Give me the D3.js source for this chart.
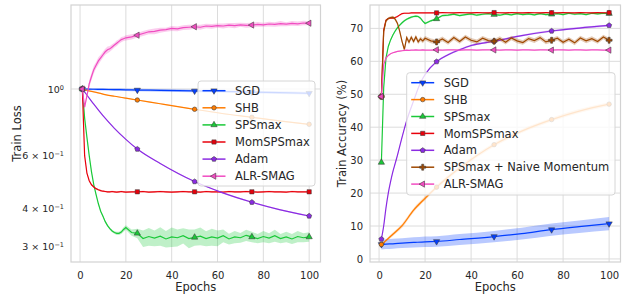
<!DOCTYPE html>
<meta charset="utf-8">
<style>
body { margin: 0; background: #fff; }
svg { display: block; font-family: "DejaVu Sans", sans-serif; }
.grid line { stroke: #dcdcdc; stroke-width: 1; }
.frame { fill: none; stroke: #d2d2d2; stroke-width: 1.2; }
.tick text { fill: #262626; font-size: 10px; font-family: "DejaVu Sans", sans-serif; }
.legend text { font-size: 11.5px; fill: #262626; }
.axis-label { font-size: 11.5px; fill: #262626; }
</style>
<svg width="629" height="296"></svg>

<script src="https://d3js.org/d3.v7.min.js"></script>
<script>
var svg = d3.select("svg");

// ---- data ----
var names  = ["SGD", "SHB", "SPSmax", "MomSPSmax", "Adam", "SPSmax + Naive Momentum", "ALR-SMAG"];
var colors = ["#023eff", "#ff7c00", "#1ac938", "#e8000b", "#8b2be2", "#9f4800", "#f14cc1"];

var markEpochs = [1, 25, 50, 75, 100];
var xTicks = [0, 20, 40, 60, 80, 100];
var lossTicks = [0.3, 0.4, 0.6, 1];
var lossTickLabels = [["3 × 10", "−1"], ["4 × 10", "−1"], ["6 × 10", "−1"], ["10", "0"]];
var accTicks = [0, 10, 20, 30, 40, 50, 60, 70];

var sparseEpochs = [1, 3, 6, 10, 15, 20, 25, 35, 50, 62, 75, 87, 100];
var denseEpochs = [1, 2, 3, 4, 5, 6, 7, 8, 9, 10, 11, 12, 13, 14, 15, 16, 17, 18, 19, 20,
  22.5, 25, 27.5, 30, 32.5, 35, 37.5, 40, 42.5, 45, 47.5, 50, 52.5, 55, 57.5, 60,
  62.5, 65, 67.5, 70, 72.5, 75, 77.5, 80, 82.5, 85, 87.5, 90, 92.5, 95, 97.5, 100];
var adamAccEpochs = [1, 2, 3, 4, 5, 6, 7, 8, 10, 12, 15, 18, 20, 25, 30, 35, 40, 50, 62, 75, 87, 100];

// train loss
var lossSGD   = [1.0, 0.999, 0.998, 0.997, 0.995, 0.994, 0.992, 0.99, 0.985, 0.981, 0.977, 0.972, 0.968];
var lossSGDsd = [0.003, 0.006, 0.008, 0.009, 0.01, 0.01, 0.01, 0.01, 0.01, 0.01, 0.01, 0.01, 0.01];
var lossSHB   = [1.0, 0.99, 0.978, 0.962, 0.946, 0.932, 0.919, 0.893, 0.856, 0.829, 0.805, 0.783, 0.763];
var lossSHBsd = [0, 0.002, 0.002, 0.003, 0.003, 0.003, 0.003, 0.003, 0.003, 0.003, 0.003, 0.003, 0.003];
var lossAdam  = [1.0, 0.955, 0.89, 0.815, 0.74, 0.68, 0.631, 0.565, 0.492, 0.452, 0.420, 0.397, 0.378];
var lossAdamsd = [0, 0.002, 0.002, 0.002, 0.002, 0.002, 0.002, 0.002, 0.002, 0.002, 0.002, 0.002, 0.002];

var lossSPS = [1.0, 0.80, 0.69, 0.60, 0.53, 0.48, 0.445, 0.415, 0.392, 0.377,
  0.362, 0.351, 0.343, 0.337, 0.333, 0.331, 0.331, 0.334, 0.341, 0.346,
  0.333, 0.331, 0.318, 0.323, 0.319, 0.324, 0.317, 0.322, 0.320, 0.325,
  0.318, 0.321, 0.324, 0.318, 0.322, 0.319, 0.325, 0.317, 0.322, 0.320,
  0.326, 0.322, 0.318, 0.323, 0.319, 0.325, 0.318, 0.322, 0.317, 0.323,
  0.320, 0.322];
var lossSPSsd = [0, 0.002, 0.003, 0.003, 0.003, 0.003, 0.003, 0.003, 0.003, 0.003,
  0.003, 0.003, 0.003, 0.003, 0.003, 0.004, 0.004, 0.005, 0.006, 0.006,
  0.008, 0.012, 0.02, 0.022, 0.019, 0.023, 0.02, 0.024, 0.021, 0.019,
  0.023, 0.02, 0.022, 0.018, 0.021, 0.019, 0.016, 0.013, 0.015, 0.012,
  0.014, 0.013, 0.011, 0.014, 0.012, 0.015, 0.011, 0.013, 0.012, 0.014,
  0.011, 0.012];
var lossMom = [1.0, 0.60, 0.525, 0.495, 0.48, 0.472, 0.466, 0.462, 0.459, 0.457,
  0.456, 0.455, 0.455, 0.456, 0.455, 0.454, 0.455, 0.456, 0.455, 0.454,
  0.455, 0.455, 0.456, 0.454, 0.455, 0.456, 0.455, 0.454, 0.455, 0.456,
  0.455, 0.455, 0.454, 0.456, 0.455, 0.455, 0.454, 0.456, 0.455, 0.455,
  0.456, 0.455, 0.454, 0.455, 0.456, 0.455, 0.455, 0.454, 0.456, 0.455,
  0.455, 0.455];
var lossMomsd = [0, 0.003, 0.003, 0.003, 0.003, 0.003, 0.003, 0.003, 0.003, 0.003,
  0.003, 0.003, 0.003, 0.003, 0.003, 0.003, 0.003, 0.003, 0.003, 0.003,
  0.003, 0.003, 0.003, 0.003, 0.003, 0.003, 0.003, 0.003, 0.003, 0.003,
  0.003, 0.003, 0.003, 0.003, 0.003, 0.003, 0.003, 0.003, 0.003, 0.003,
  0.003, 0.003, 0.003, 0.003, 0.003, 0.003, 0.003, 0.003, 0.003, 0.003,
  0.003, 0.003];
var lossALR = [1.0, 0.87, 0.95, 1.04, 1.10, 1.16, 1.20, 1.24, 1.27, 1.30,
  1.33, 1.35, 1.36, 1.38, 1.40, 1.42, 1.44, 1.46, 1.47, 1.48,
  1.49, 1.51, 1.53, 1.55, 1.555, 1.57, 1.575, 1.59, 1.585, 1.60,
  1.605, 1.611, 1.605, 1.62, 1.615, 1.625, 1.62, 1.63, 1.625, 1.635,
  1.628, 1.632, 1.64, 1.635, 1.645, 1.64, 1.65, 1.643, 1.652, 1.648,
  1.658, 1.655];
var lossALRsd = [0, 0.01, 0.02, 0.03, 0.03, 0.035, 0.03, 0.035, 0.03, 0.03,
  0.03, 0.035, 0.03, 0.03, 0.025, 0.03, 0.025, 0.03, 0.025, 0.03,
  0.03, 0.025, 0.03, 0.028, 0.035, 0.03, 0.025, 0.03, 0.028, 0.03,
  0.032, 0.025, 0.03, 0.028, 0.03, 0.025, 0.03, 0.028, 0.032, 0.025,
  0.03, 0.028, 0.03, 0.025, 0.03, 0.028, 0.032, 0.025, 0.03, 0.028,
  0.03, 0.025];

// train accuracy (%)
var accSGD   = [4.4, 4.5, 4.6, 4.8, 5.0, 5.2, 5.3, 5.9, 6.8, 7.7, 8.9, 9.8, 10.7];
var accSGDsd = [1.5, 1.5, 1.5, 1.5, 1.55, 1.6, 1.6, 1.65, 1.7, 1.8, 1.85, 1.9, 2.0];
var accSHB   = [4.4, 5.6, 7.5, 10.1, 14.8, 18.4, 21.8, 27.6, 34.7, 38.8, 42.3, 44.9, 47.0];
var accSHBsd = [0.3, 0.4, 0.5, 0.6, 0.6, 0.6, 0.6, 0.6, 0.6, 0.6, 0.6, 0.6, 0.6];
var accAdam  = [6.0, 10, 15.5, 20, 23.5, 26.5, 29, 31.5, 37, 42, 48, 53.5, 56, 59.9, 62, 63.5, 64.8, 66.1, 67.8, 69.2, 70.1, 70.9];
var accAdamsd = [0.3, 0.3, 0.3, 0.3, 0.3, 0.3, 0.3, 0.3, 0.3, 0.3, 0.3, 0.3, 0.3, 0.3, 0.3, 0.3, 0.3, 0.3, 0.3, 0.3, 0.3, 0.3];

var accSPS = [29.3, 52, 61, 64.5, 66.5, 68, 69.2, 70.2, 71, 71.7,
  72.3, 72.8, 73.1, 73.4, 73.6, 73.7, 73.6, 73.1, 72.2, 71.5,
  72.3, 72.9, 73.9, 74.0, 74.3, 73.9, 74.2, 74.4, 74.0, 74.3,
  74.5, 74.2, 74.0, 74.4, 74.1, 74.5, 74.2, 74.4, 74.1, 74.5,
  74.2, 74.3, 74.5, 74.2, 74.6, 74.3, 74.5, 74.2, 74.6, 74.4,
  74.6, 74.5];
var accSPSsd = [0.2, 0.5, 0.4, 0.3, 0.3, 0.3, 0.3, 0.3, 0.3, 0.3,
  0.3, 0.3, 0.3, 0.3, 0.3, 0.3, 0.3, 0.3, 0.3, 0.3,
  0.3, 0.3, 0.3, 0.3, 0.3, 0.3, 0.3, 0.3, 0.3, 0.3,
  0.3, 0.3, 0.3, 0.3, 0.3, 0.3, 0.3, 0.3, 0.3, 0.3,
  0.3, 0.3, 0.3, 0.3, 0.3, 0.3, 0.3, 0.3, 0.3, 0.3,
  0.3, 0.3];
var accMom = [49.3, 69.5, 72.5, 73.0, 73.1, 73.1, 73.3, 73.6, 74.1, 74.5,
  74.6, 74.6, 74.6, 74.7, 74.7, 74.7, 74.7, 74.7, 74.7, 74.7,
  74.75, 74.7, 74.8, 74.75, 74.7, 74.8, 74.75, 74.7, 74.8, 74.75,
  74.7, 74.8, 74.75, 74.7, 74.8, 74.75, 74.7, 74.8, 74.75, 74.7,
  74.8, 74.75, 74.7, 74.8, 74.75, 74.7, 74.8, 74.75, 74.7, 74.8,
  74.75, 74.75];
var accMomsd = [0.2, 0.3, 0.2, 0.2, 0.2, 0.2, 0.2, 0.2, 0.2, 0.2,
  0.2, 0.2, 0.2, 0.2, 0.2, 0.2, 0.2, 0.2, 0.2, 0.2,
  0.2, 0.2, 0.2, 0.2, 0.2, 0.2, 0.2, 0.2, 0.2, 0.2,
  0.2, 0.2, 0.2, 0.2, 0.2, 0.2, 0.2, 0.2, 0.2, 0.2,
  0.2, 0.2, 0.2, 0.2, 0.2, 0.2, 0.2, 0.2, 0.2, 0.2,
  0.2, 0.2];
var accNaive = [49.3, 69, 72.3, 73.0, 73.3, 73.4, 72.8, 71.5, 69, 66,
  63.6, 67.2, 65.8, 67.3, 66.0, 67.4, 65.9, 66.8, 66.2, 67.0,
  66.2, 65.9, 66.8, 65.7, 67.2, 66.0, 67.4, 66.4, 65.9, 67.0,
  66.3, 66.1, 66.9, 65.8, 67.1, 66.2, 65.7, 66.9, 66.3, 67.2,
  65.9, 66.4, 67.0, 65.8, 66.7, 65.6, 67.1, 66.2, 66.9, 66.0,
  67.4, 66.4];
var accNaivesd = [0.3, 0.4, 0.4, 0.4, 0.4, 0.4, 0.5, 0.5, 0.6, 0.6,
  0.7, 0.7, 0.7, 0.7, 0.7, 0.7, 0.7, 0.7, 0.7, 0.7,
  0.7, 0.7, 0.7, 0.7, 0.7, 0.7, 0.7, 0.7, 0.7, 0.7,
  0.7, 0.7, 0.7, 0.7, 0.7, 0.7, 0.7, 0.7, 0.7, 0.7,
  0.7, 0.7, 0.7, 0.7, 0.7, 0.7, 0.7, 0.7, 0.7, 0.7,
  0.7, 0.7];
var accALR = [49.3, 59, 61, 61.8, 62.3, 62.6, 62.8, 63.0, 63.1, 63.2,
  63.3, 63.4, 63.3, 63.4, 63.4, 63.5, 63.4, 63.4, 63.5, 63.4,
  63.4, 63.5, 63.4, 63.45, 63.5, 63.4, 63.45, 63.5, 63.4, 63.45,
  63.5, 63.45, 63.4, 63.5, 63.45, 63.4, 63.5, 63.45, 63.4, 63.5,
  63.45, 63.4, 63.5, 63.45, 63.4, 63.5, 63.45, 63.4, 63.5, 63.45,
  63.4, 63.4];
var accALRsd = [0.2, 0.3, 0.2, 0.15, 0.15, 0.15, 0.15, 0.15, 0.15, 0.15,
  0.15, 0.15, 0.15, 0.15, 0.15, 0.15, 0.15, 0.15, 0.15, 0.15,
  0.15, 0.15, 0.15, 0.15, 0.15, 0.15, 0.15, 0.15, 0.15, 0.15,
  0.15, 0.15, 0.15, 0.15, 0.15, 0.15, 0.15, 0.15, 0.15, 0.15,
  0.15, 0.15, 0.15, 0.15, 0.15, 0.15, 0.15, 0.15, 0.15, 0.15,
  0.15, 0.15];

// ---- markers ----
var pentagon = {
  draw: function(ctx, size) {
    var r = Math.sqrt(size / 2.378);
    for (var i = 0; i < 5; i++) {
      var a = -Math.PI / 2 + i * 2 * Math.PI / 5;
      if (i) ctx.lineTo(r * Math.cos(a), r * Math.sin(a));
      else ctx.moveTo(r * Math.cos(a), r * Math.sin(a));
    }
    ctx.closePath();
  }
};
var markers = [
  {type: d3.symbolTriangle, size: 17, rot: 180},
  {type: d3.symbolCircle, size: 16, rot: 0},
  {type: d3.symbolTriangle, size: 17, rot: 0},
  {type: d3.symbolSquare, size: 18, rot: 0},
  {type: pentagon, size: 17, rot: 0},
  {type: d3.symbolCross, size: 20, rot: 0},
  {type: d3.symbolTriangle, size: 17, rot: -90}
];

function makeSeries(k, ep, v, sd, smooth) {
  return {k: k, smooth: smooth, pts: ep.map(function(e, i) { return {e: e, v: v[i], sd: sd[i]}; })};
}

var lossSeries = [
  makeSeries(0, sparseEpochs, lossSGD, lossSGDsd, true),
  makeSeries(1, sparseEpochs, lossSHB, lossSHBsd, true),
  makeSeries(2, denseEpochs, lossSPS, lossSPSsd, false),
  makeSeries(3, denseEpochs, lossMom, lossMomsd, false),
  makeSeries(4, sparseEpochs, lossAdam, lossAdamsd, true),
  makeSeries(6, denseEpochs, lossALR, lossALRsd, false)
];
var accSeries = [
  makeSeries(0, sparseEpochs, accSGD, accSGDsd, true),
  makeSeries(1, sparseEpochs, accSHB, accSHBsd, true),
  makeSeries(2, denseEpochs, accSPS, accSPSsd, false),
  makeSeries(3, denseEpochs, accMom, accMomsd, false),
  makeSeries(4, adamAccEpochs, accAdam, accAdamsd, true),
  makeSeries(5, denseEpochs, accNaive, accNaivesd, false),
  makeSeries(6, denseEpochs, accALR, accALRsd, false)
];

var yTop = 5, yBottom = 262;

function panel(opt) {
  var g = svg.append("g");
  var x = d3.scaleLinear().domain([-3.95, 104.95]).range([opt.left, opt.right]);
  var y = opt.y;

  // grid
  var grid = g.append("g").attr("class", "grid");
  grid.selectAll(".gx").data(xTicks).join("line").attr("class", "gx")
    .attr("x1", function(d) { return x(d); }).attr("x2", function(d) { return x(d); })
    .attr("y1", yTop).attr("y2", yBottom);
  grid.selectAll(".gy").data(opt.gridY).join("line").attr("class", "gy")
    .attr("x1", opt.left).attr("x2", opt.right)
    .attr("y1", function(d) { return y(d); }).attr("y2", function(d) { return y(d); });

  g.append("rect").attr("class", "frame")
    .attr("x", opt.left).attr("y", yTop)
    .attr("width", opt.right - opt.left).attr("height", yBottom - yTop);

  // axes
  var xa = g.append("g").attr("transform", "translate(0," + yBottom + ")")
    .call(d3.axisBottom(x).tickValues(xTicks).tickSize(0).tickPadding(10));
  xa.select(".domain").remove();

  var ya = g.append("g").attr("transform", "translate(" + opt.left + ",0)")
    .call(d3.axisLeft(y).tickValues(opt.yTicks).tickSize(0).tickPadding(7)
      .tickFormat(opt.yFormat || function(d) { return d; }));
  ya.select(".domain").remove();
  if (opt.yLabels) {
    ya.selectAll(".tick text").each(function(d, i) {
      var t = d3.select(this).text("").style("font-size", "9.5px");
      t.append("tspan").text(opt.yLabels[i][0]);
      t.append("tspan").attr("dy", "-0.45em").style("font-size", "6.5px").text(opt.yLabels[i][1]);
    });
  }

  g.append("text").attr("class", "axis-label")
    .attr("x", (opt.left + opt.right) / 2).attr("y", 291)
    .attr("text-anchor", "middle").text("Epochs");
  g.append("text").attr("class", "axis-label")
    .attr("transform", "translate(" + opt.ylabX + "," + ((yTop + yBottom) / 2) + ") rotate(-90)")
    .attr("text-anchor", "middle").text(opt.ylabel);

  // plot area
  var clipId = "clip" + Math.round(opt.left);
  g.append("clipPath").attr("id", clipId).append("rect")
    .attr("x", opt.left).attr("y", yTop).attr("width", opt.right - opt.left).attr("height", yBottom - yTop);
  var plot = g.append("g").attr("clip-path", "url(#" + clipId + ")");

  opt.series.forEach(function(s) {
    var c = colors[s.k];
    var curve = s.smooth ? d3.curveMonotoneX : d3.curveLinear;
    var area = d3.area().curve(curve)
      .x(function(d) { return x(d.e); })
      .y0(function(d) { return y(d.v - d.sd); })
      .y1(function(d) { return y(d.v + d.sd); });
    var line = d3.line().curve(curve)
      .x(function(d) { return x(d.e); })
      .y(function(d) { return y(d.v); });
    plot.append("path").attr("d", area(s.pts)).attr("fill", c).attr("fill-opacity", 0.28).attr("stroke", "none");
    plot.append("path").attr("d", line(s.pts)).attr("fill", "none").attr("stroke", c).attr("stroke-width", 1.2);
    var m = markers[s.k];
    plot.selectAll(null).data(s.pts.filter(function(d) { return markEpochs.indexOf(d.e) >= 0; }))
      .join("path")
      .attr("transform", function(d) { return "translate(" + x(d.e) + "," + y(d.v) + ") rotate(" + m.rot + ")"; })
      .attr("d", d3.symbol().type(m.type).size(m.size))
      .attr("fill", c).attr("stroke", "#3a3a3a").attr("stroke-opacity", 0.8).attr("stroke-width", 0.7);
  });

  // legend
  var L = opt.legend;
  var lg = g.append("g").attr("class", "legend");
  lg.append("rect").attr("x", L.x).attr("y", L.y).attr("width", L.w).attr("height", L.h)
    .attr("rx", 3).attr("fill", "#fff").attr("fill-opacity", 0.8)
    .attr("stroke", "#d6d6d6").attr("stroke-width", 1);
  opt.series.forEach(function(s, i) {
    var ry = L.row0 + i * L.step;
    var c = colors[s.k], m = markers[s.k];
    lg.append("line").attr("x1", L.x + 4.5).attr("x2", L.x + 27.5)
      .attr("y1", ry).attr("y2", ry).attr("stroke", c).attr("stroke-width", 1.5);
    lg.append("path").attr("transform", "translate(" + (L.x + 16) + "," + ry + ") rotate(" + m.rot + ")")
      .attr("d", d3.symbol().type(m.type).size(m.size))
      .attr("fill", c).attr("stroke", "#3a3a3a").attr("stroke-opacity", 0.8).attr("stroke-width", 0.7);
    lg.append("text").attr("x", L.x + 37).attr("y", ry).attr("dy", "0.36em").text(names[s.k]);
  });
}

panel({
  left: 71, right: 320.5,
  y: d3.scaleLog().domain([0.2657, 1.903]).range([yBottom, yTop]),
  yTicks: lossTicks, yLabels: lossTickLabels, yFormat: function() { return ""; },
  gridY: [1],
  ylabel: "Train Loss", ylabX: 20.5,
  series: lossSeries,
  legend: {x: 198, y: 81, w: 117, h: 105, row0: 90.7, step: 17.1}
});

panel({
  left: 370, right: 620.5,
  y: d3.scaleLinear().domain([-0.93, 77.1]).range([yBottom, yTop]),
  yTicks: accTicks,
  gridY: accTicks,
  ylabel: "Train Accuracy (%)", ylabX: 346,
  series: accSeries,
  legend: {x: 406.7, y: 72.7, w: 208.3, h: 122.3, row0: 82.7, step: 16.9}
});
</script>
